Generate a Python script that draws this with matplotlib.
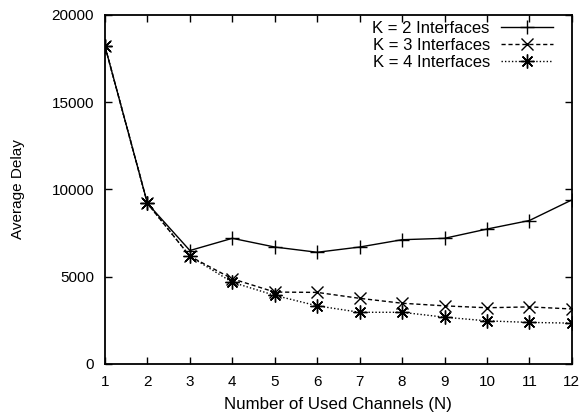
import matplotlib
matplotlib.use("Agg")
import matplotlib.pyplot as plt

plt.rcParams['font.family'] = ['Liberation Sans', 'DejaVu Sans']
plt.rcParams['font.size'] = 11

# Number of used channels
channels = [1, 2, 3, 4, 5, 6, 7, 8, 9, 10, 11, 12]

# Average delay for each number of interfaces
delay_k2 = [18200, 9200, 6500, 7200, 6700, 6400, 6700, 7120, 7200, 7730, 8220, 9400]
delay_k3 = [18200, 9200, 6170, 4880, 4120, 4100, 3760, 3480, 3330, 3220, 3270, 3150]
delay_k4 = [18200, 9200, 6170, 4680, 3930, 3330, 2960, 2960, 2680, 2470, 2380, 2340]

fig = plt.figure(figsize=(5.85, 4.15), dpi=100)
ax = fig.add_axes([0.1795, 0.123, 0.798, 0.841])

ax.plot(channels, delay_k2, color="black", lw=1.0, ls="-", marker="+",
        ms=9.5, mew=1.0, label="K = 2 Interfaces")
ax.plot(channels, delay_k3, color="black", lw=1.0, ls=(0, (3, 2)), marker="x",
        ms=8, mew=1.0, label="K = 3 Interfaces")
ax.plot(channels, delay_k4, color="black", lw=1.0, ls=(0, (1, 1.5)), marker=(8, 2, 0),
        ms=10, mew=1.0, label="K = 4 Interfaces")

ax.set_xlim(1, 12)
ax.set_ylim(0, 20000)
ax.set_xticks(channels)
ax.set_yticks([0, 5000, 10000, 15000, 20000])
ax.tick_params(direction="in", length=5, width=1, top=True, right=True, pad=8,
               labelsize=11)
for s in ax.spines.values():
    s.set_linewidth(1.3)

ax.set_xlabel("Number of Used Channels (N)", fontsize=12.2, labelpad=6)
ax.set_ylabel("Average Delay", fontsize=11, labelpad=19)

ax.legend(loc="upper right", bbox_to_anchor=(0.96, 0.982), frameon=False,
          markerfirst=False, handlelength=3.1, fontsize=12, labelspacing=0.12,
          borderaxespad=0, borderpad=0, handletextpad=0.7)

fig.savefig("out.png", dpi=100)
